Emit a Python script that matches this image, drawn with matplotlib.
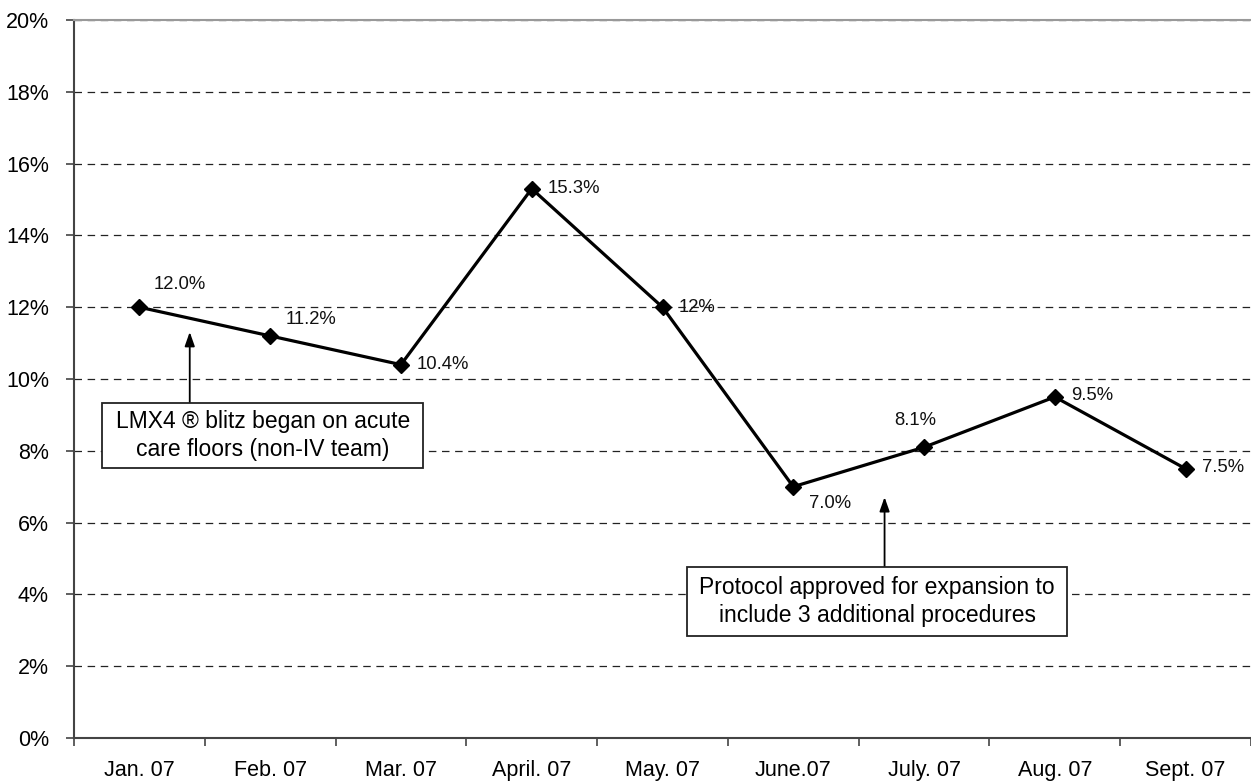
import numpy as np
import matplotlib
matplotlib.use("Agg")
import matplotlib.pyplot as plt
from matplotlib.patches import Rectangle
from matplotlib.ticker import FuncFormatter, MultipleLocator

plt.rcParams['font.family'] = ['Liberation Sans', 'DejaVu Sans']

# Data
months = ["Jan. 07", "Feb. 07", "Mar. 07", "April. 07", "May. 07",
          "June.07", "July. 07", "Aug. 07", "Sept. 07"]
rate_pct = [12.0, 11.2, 10.4, 15.3, 12.0, 7.0, 8.1, 9.5, 7.5]
point_labels = ["12.0%", "11.2%", "10.4%", "15.3%", "12%",
                "7.0%", "8.1%", "9.5%", "7.5%"]
note_1 = "LMX4 \u00ae blitz began on acute\ncare floors (non-IV team)"
note_2 = "Protocol approved for expansion to\ninclude 3 additional procedures"

# label offsets in points (dx, dy) and alignment
label_offsets = [(29, 16, 'center'), (29.5, 12, 'center'), (11.5, 0, 'left'),
                 (11.5, 0, 'left'), (11.5, 0, 'left'), (26.5, -12, 'center'),
                 (-6, 19.5, 'center'), (11.5, 1, 'left'), (11.5, 1, 'left')]

fig = plt.figure(figsize=(12.51, 7.83), dpi=100)
ax = fig.add_axes([74 / 1251, 45 / 783, 1 - 74 / 1251, 718 / 783])

x = np.arange(len(months))
ax.plot(x, rate_pct, color='black', lw=2.3, marker='D', ms=8.5,
        mfc='black', mec='black', zorder=3, clip_on=False)

for xi, yi, lab, (dx, dy, ha) in zip(x, rate_pct, point_labels, label_offsets):
    ax.annotate(lab, xy=(xi, yi), xytext=(dx, dy), textcoords='offset points',
                ha=ha, va='center', fontsize=13.3, color='#111111', zorder=4)

# Axes styling
ax.set_xlim(-0.5, len(months) - 0.5)
ax.set_ylim(0, 20)
ax.yaxis.set_major_locator(MultipleLocator(2))
ax.yaxis.set_major_formatter(FuncFormatter(lambda v, p: f"{v:.0f}%"))
ax.set_xticks(x)
ax.set_xticklabels(months)
ax.set_xticks(np.arange(-0.5, len(months), 1.0), minor=True)
ax.tick_params(axis='x', which='major', length=0, pad=16, labelsize=15.5)
ax.tick_params(axis='x', which='minor', length=6, width=1.2, color='#444444')
ax.tick_params(axis='y', length=6, width=1.2, color='#444444', pad=12,
               labelsize=15.5)

ax.grid(axis='y', color='#222222', lw=0.9, linestyle=(0, (6, 4.5)))
ax.set_axisbelow(True)
for side in ['left', 'bottom']:
    ax.spines[side].set_color('#444444')
    ax.spines[side].set_linewidth(1.5)
ax.spines['top'].set_color('#999999')
ax.spines['top'].set_linewidth(1.5)
ax.spines['right'].set_visible(False)

# Annotation boxes and arrows
for (x0, x1, y0, y1), note in [((-0.286, 2.172, 7.52, 9.33), note_1),
                               ((4.187, 7.095, 2.84, 4.76), note_2)]:
    ax.add_patch(Rectangle((x0, y0), x1 - x0, y1 - y0, fc='white',
                           ec='#222222', lw=1.3, zorder=5))
    ax.text((x0 + x1) / 2, (y0 + y1) / 2, note, ha='center', va='center',
            fontsize=16.5, linespacing=1.25, zorder=6)

arrow = dict(arrowstyle='-|>,head_width=0.3,head_length=0.85', lw=1.3,
             color='black', shrinkA=0, shrinkB=0)
ax.annotate('', xy=(0.385, 11.31), xytext=(0.385, 9.33), arrowprops=arrow)
ax.annotate('', xy=(5.698, 6.71), xytext=(5.698, 4.76), arrowprops=arrow)

fig.savefig("out.png", dpi=100)
